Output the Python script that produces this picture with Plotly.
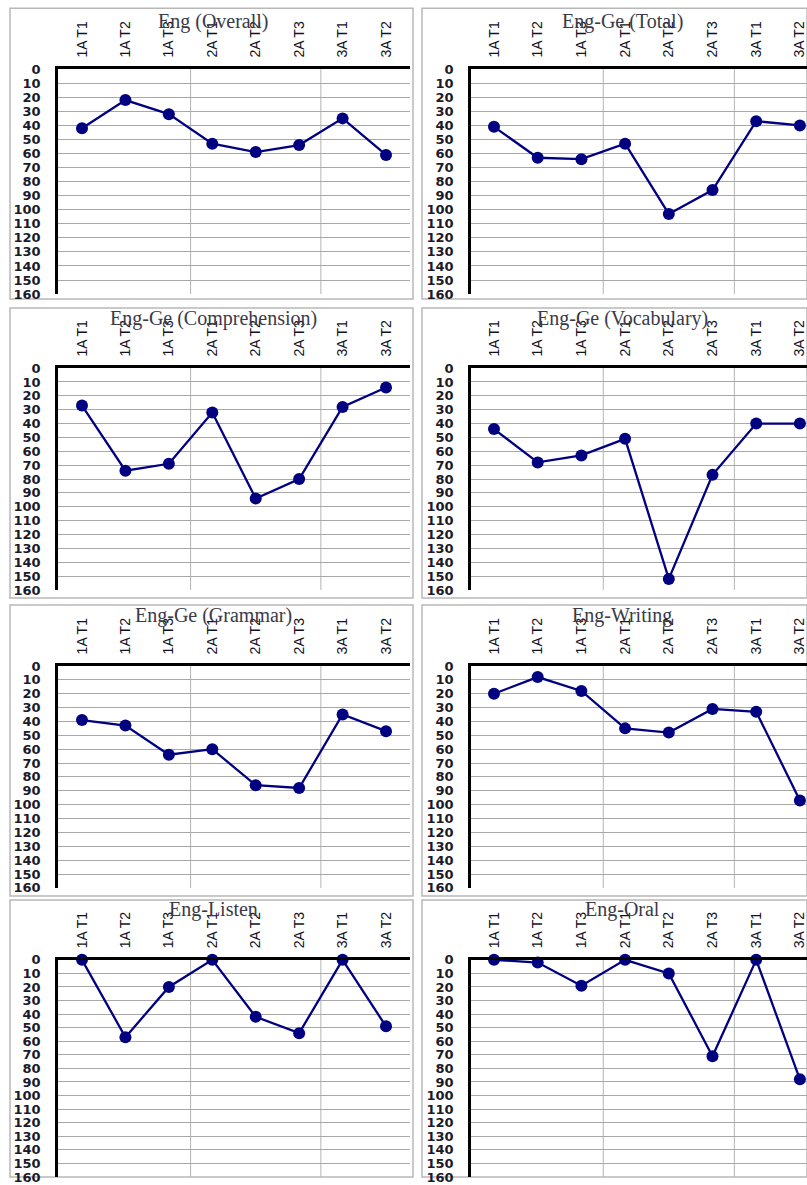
import plotly.graph_objects as go

W, H = 807, 1185

categories = ["1A T1", "1A T2", "1A T3", "2A T1", "2A T2", "2A T3", "3A T1", "3A T2"]

titles = ["Eng (Overall)", "Eng-Ge (Total)", "Eng-Ge (Comprehension)", "Eng-Ge (Vocabulary)",
          "Eng-Ge (Grammar)", "Eng-Writing", "Eng-Listen", "Eng-Oral"]

eng_overall = [42, 22, 32, 53, 59, 54, 35, 61]
eng_ge_total = [41, 63, 64, 53, 103, 86, 37, 40]
eng_ge_comprehension = [27, 74, 69, 32, 94, 80, 28, 14]
eng_ge_vocabulary = [44, 68, 63, 51, 152, 77, 40, 40]
eng_ge_grammar = [39, 43, 64, 60, 86, 88, 35, 47]
eng_writing = [20, 8, 18, 45, 48, 31, 33, 97]
eng_listen = [0, 57, 20, 0, 42, 54, 0, 49]
eng_oral = [0, 2, 19, 0, 10, 71, 0, 88]

series = [eng_overall, eng_ge_total, eng_ge_comprehension, eng_ge_vocabulary,
          eng_ge_grammar, eng_writing, eng_listen, eng_oral]

y_ticks = list(range(0, 161, 10))

# vertical compensation for the capture (observed ~0.988 scale, ~5.8px offset)
SY = 0.9877
OY = 5.8


def px_x(x):
    return max(0.0, min(1.0, x / W))


def px_y(y):
    return max(0.0, min(1.0, 1 - ((y - OY) / SY) / H))


# layout geometry (target pixels)
col_plot = [(58, 410), (471, 807)]
first_cat = [82, 494]
cat_step = [43.43, 43.7]
row_plot = [(68, 293), (367, 589), (665, 887), (959, 1179)]
col_box = [(10, 413), (422, 807)]
row_box = [(7, 298), (307, 597), (604, 895), (899, 1185)]
title_x = [213, 622]
title_y = [20, 317, 615, 909]

fig = go.Figure()
layout = {}
shapes = []
annotations = []

for i, (title, vals) in enumerate(zip(titles, series)):
    r, c = divmod(i, 2)
    n = i + 1
    xa = "x" if n == 1 else f"x{n}"
    ya = "y" if n == 1 else f"y{n}"
    fig.add_trace(go.Scatter(
        x=categories, y=vals, mode="lines+markers", xaxis=xa, yaxis=ya,
        line=dict(color="#000080", width=2.3),
        marker=dict(size=12, color="#000080"),
        cliponaxis=False, showlegend=False, name=title))

    x0, x1 = col_plot[c]
    xrange = [(x0 - first_cat[c]) / cat_step[c], (x1 - first_cat[c]) / cat_step[c]]
    y0, y1 = row_plot[r]
    kx = "xaxis" if n == 1 else f"xaxis{n}"
    ky = "yaxis" if n == 1 else f"yaxis{n}"
    layout[kx] = dict(
        domain=[px_x(x0), px_x(x1)], anchor=ya, side="top", type="category",
        range=xrange, showline=True, linecolor="black", linewidth=2.5,
        showgrid=False, zeroline=False, ticks="", tickangle=-90,
        tickfont=dict(family="Liberation Sans", size=14, color="#111122"),
        ticklabelstandoff=6, fixedrange=True)
    layout[ky] = dict(
        domain=[px_y(y1), px_y(y0)], anchor=xa, range=[160, 0],
        tickmode="array", tickvals=y_ticks, ticktext=[str(v) for v in y_ticks],
        showline=True, linecolor="black", linewidth=2.5,
        showgrid=True, gridcolor="#a8a8a8", gridwidth=1, zeroline=False, ticks="",
        tickfont=dict(family="DejaVu Sans", size=13, color="#1a1a2a", weight="bold"),
        ticklabelstandoff=12, fixedrange=True)

    for sx in (2.5, 5.5):
        shapes.append(dict(type="line", xref=xa, yref=f"{ya} domain", x0=sx, x1=sx, y0=0, y1=1,
                           line=dict(color="#b4b4b4", width=1), layer="below"))

    bx0, bx1 = col_box[c]
    by0, by1 = row_box[r]
    shapes.append(dict(type="rect", xref="paper", yref="paper",
                       x0=px_x(bx0), x1=px_x(bx1), y0=px_y(by1), y1=px_y(by0),
                       line=dict(color="#b8b8b8", width=1.5), layer="below"))

    annotations.append(dict(text=title, xref="paper", yref="paper",
                            x=px_x(title_x[c]), y=px_y(title_y[r]),
                            xanchor="center", yanchor="middle", showarrow=False,
                            font=dict(family="Liberation Serif", size=20, color="#3a3a48")))

fig.update_layout(
    width=W, height=H, margin=dict(l=0, r=0, t=0, b=0),
    paper_bgcolor="white", plot_bgcolor="rgba(0,0,0,0)",
    shapes=shapes, annotations=annotations, showlegend=False, **layout)

fig.write_html(
    "out.html",
    config={"displayModeBar": False},
    post_script=("document.documentElement.style.overflow='hidden';"
                 "document.body.style.margin='0';document.body.style.padding='0';"
                 "document.body.style.overflow='hidden';"
                 "var gd=document.getElementById('{plot_id}');"
                 "gd.style.position='absolute';gd.style.top='0px';gd.style.left='0px';"
                 "gd.style.overflow='hidden';gd.style.width='807px';gd.style.height='1185px';"
                 "var svgs=gd.getElementsByTagName('svg');"
                 "for(var k=0;k<svgs.length;k++){svgs[k].style.overflow='hidden';}"))
